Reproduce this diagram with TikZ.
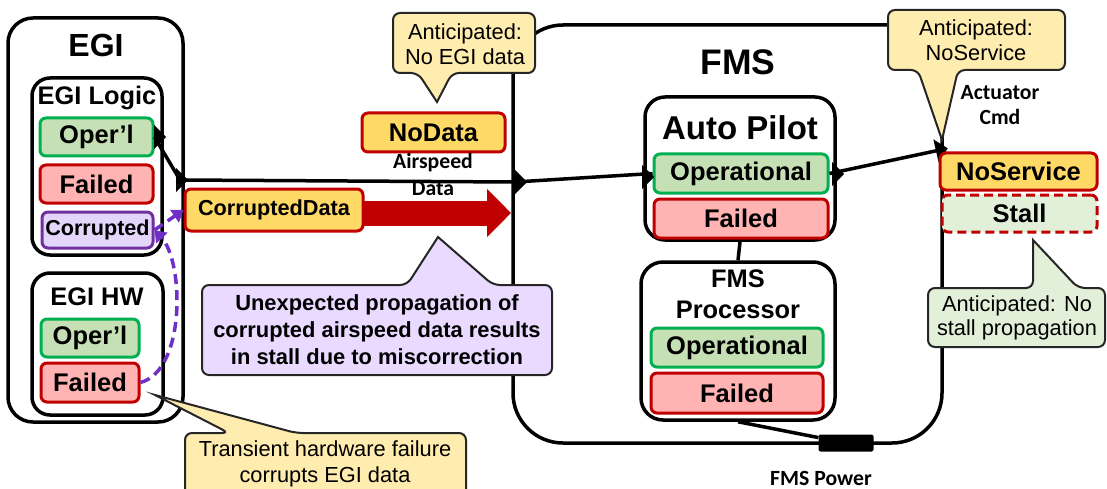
\documentclass[tikz,border=0pt]{standalone}
\usepackage{fontspec}
\setmainfont{Liberation Sans}
\newfontfamily\calfont{Carlito}
\usetikzlibrary{arrows.meta}

\definecolor{okfill}{RGB}{197,224,180}
\definecolor{okline}{RGB}{0,176,80}
\definecolor{badfill}{RGB}{255,179,179}
\definecolor{badline}{RGB}{192,0,0}
\definecolor{corfill}{RGB}{228,214,250}
\definecolor{corline}{RGB}{112,48,160}
\definecolor{datafill}{RGB}{255,217,102}
\definecolor{stallfill}{RGB}{226,240,217}
\definecolor{noteY}{RGB}{255,236,175}
\definecolor{noteP}{RGB}{234,218,255}
\definecolor{noteG}{RGB}{226,240,217}
\definecolor{arrowP}{RGB}{112,48,200}

\tikzset{
    container/.style={draw, line width=3.5pt, inner sep=0pt},
    state/.style={line width=3pt, rounded corners=6pt, inner sep=0pt, minimum height=38pt,
        font=\fontsize{25.5}{28}\selectfont\bfseries},
    okst/.style={state, draw=okline, fill=okfill},
    badst/.style={state, draw=badline, fill=badfill},
    corst/.style={state, draw=corline, fill=corfill, font=\fontsize{21.6}{24}\selectfont\bfseries},
    datast/.style={state, draw=badline, fill=datafill},
    stallst/.style={state, draw=badline, fill=stallfill, dash pattern=on 9pt off 5pt},
    subtitle/.style={font=\fontsize{25.4}{31}\selectfont\bfseries, align=center},
    flowlabel/.style={font=\fontsize{21.7}{26}\calfont\bfseries, align=center},
    note/.style={draw=black!85, line width=2pt, rounded corners=7pt},
    notetext/.style={font=\fontsize{21.8}{25}\selectfont, align=center},
    link/.style={line width=3.5pt},
    purpflow/.style={draw=arrowP, line width=3.5pt, dash pattern=on 10pt off 6pt,
        -{Triangle[length=11pt,width=15pt]}},
    bigarrow/.style={draw=badline, line width=25pt, -{Triangle[length=24pt,width=47pt]}},
    pwrport/.style={fill=black, rounded corners=2pt, minimum width=55pt, minimum height=17pt, inner sep=0pt},
    portmark/.pic={\fill (0,-12) -- (12,0) -- (0,12) -- cycle;}
}

\begin{document}
\begin{tikzpicture}[x=1pt, y=-1pt]
    \useasboundingbox (0,0) rectangle (1107,489);

    % EGI
    \node[container, rounded corners=25pt, minimum width=175pt, minimum height=404pt] (egibox) at (95.5,220) {};
    \node[font=\fontsize{32}{36}\selectfont\bfseries] (egititle) at (96,45) {EGI};

    \node[container, rounded corners=18pt, minimum width=130pt, minimum height=177pt] (logicbox) at (97,166.5) {};
    \node[subtitle] (logictitle) at (97,98) {EGI Logic};
    \node[okst, minimum width=113pt] (lop) at (96.5,137) {Oper’l};
    \node[badst, minimum width=113pt] (lfail) at (96.5,184) {Failed};
    \node[corst, minimum width=111pt, minimum height=36pt] (lcor) at (97.5,230) {Corrupted};

    \node[container, rounded corners=18pt, minimum width=131pt, minimum height=142pt] (hwbox) at (97.5,344) {};
    \node[subtitle] (hwtitle) at (97,297) {EGI HW};
    \node[okst, minimum width=98pt] (hwop) at (90,338) {Oper’l};
    \node[badst, minimum width=98pt, minimum height=39pt] (hwfail) at (90,382.5) {Failed};

    % FMS
    \node[container, rounded corners=50pt, minimum width=429pt, minimum height=418pt] (fmsbox) at (727.5,234) {};
    \node[font=\fontsize{35.5}{40}\selectfont\bfseries] (fmstitle) at (738,62) {FMS};

    \node[container, rounded corners=20pt, minimum width=190pt, minimum height=143pt] (apbox) at (740,168.5) {};
    \node[font=\fontsize{33}{36}\selectfont\bfseries] (aptitle) at (740,128) {Auto Pilot};
    \node[okst, minimum width=174pt, minimum height=39pt] (apop) at (741,173.5) {Operational};
    \node[badst, minimum width=174pt, minimum height=39pt] (apfail) at (741,218.5) {Failed};

    \node[container, rounded corners=22pt, minimum width=194pt, minimum height=158pt] (procbox) at (738,341) {};
    \node[subtitle] (proctitle) at (738,294) {FMS\\Processor};
    \node[okst, minimum width=172pt, minimum height=39pt] (procop) at (737,347.5) {Operational};
    \node[badst, minimum width=172pt, minimum height=40pt] (procfail) at (737,393) {Failed};

    \node[pwrport] (pwr) at (846,443) {};
    \node[flowlabel] (pwrlabel) at (821,478) {FMS Power};

    % ports and links
    \coordinate (egiport) at (180,180);
    \coordinate (fmsin) at (515,182);
    \coordinate (fmsout) at (940,150);
    \draw[link] (lop.east) -- (egiport);
    \draw[link] (egiport) -- (fmsin);
    \draw[link] (fmsin) -- (apop.west);
    \draw[link] (apop.east) -- (fmsout);
    \draw[link] (apbox.south) -- (procbox.north);
    \draw[link] (procbox.south) -- (pwr);
    \pic at (154,137) {portmark};
    \pic at (176,180) {portmark};
    \pic at (515,182) {portmark};
    \pic at (642,177) {portmark};
    \pic at (832,174) {portmark};
    \pic[rotate=13] at (936,151) {portmark};

    % data on the airspeed link
    \node[datast, minimum width=143pt, minimum height=39pt] (nodata) at (433.5,132.5) {NoData};
    \node[flowlabel, font=\fontsize{21.7}{27}\calfont\bfseries] (airlabel) at (433,174) {Airspeed\\Data};
    \node[datast, minimum width=178pt, minimum height=42pt, font=\fontsize{21.7}{24}\selectfont\bfseries] (cdata) at (274,210) {CorruptedData};
    \coordinate (redtail) at (362,213);
    \coordinate (redtip) at (511,213);
    \draw[bigarrow] (redtail) -- (redtip);

    % actuator output
    \node[flowlabel, font=\fontsize{21.7}{25}\calfont\bfseries] (actlabel) at (1000,105) {Actuator\\Cmd};
    \node[datast, minimum width=157pt, minimum height=37pt] (noserv) at (1018.5,171.5) {NoService};
    \node[stallst, minimum width=155pt, minimum height=37pt] (stall) at (1019.5,213.5) {Stall};

    % corruption path
    \draw[purpflow] (hwfail.east) .. controls (186,370) and (184,262) .. (lcor.east);
    \draw[purpflow] (lcor.east) -- (cdata.west);

    % callouts
    \draw[note, fill=noteY] (437,102) -- (452,73) -- (535,73) -- (535,13) -- (393,13) -- (393,73) -- (418,73) [sharp corners] -- cycle;
    \node[notetext] (eginote) at (465,44.5) {Anticipated:\\No EGI data};

    \draw[note, fill=noteY] (942,140) -- (958,70) -- (1065,70) -- (1065,10) -- (888,10) -- (888,70) -- (918,70) [sharp corners] -- cycle;
    \node[notetext] (servnote) at (976,40.5) {Anticipated:\\NoService};

    \draw[note, fill=noteG] (1033,240) -- (1078,288) -- (1105,288) -- (1105,347) -- (928,347) -- (928,288) -- (1033,288) [sharp corners] -- cycle;
    \node[notetext, font=\fontsize{21.8}{24}\selectfont] (stallnote) at (1017,318) {Anticipated: No\\stall propagation};

    \draw[note, fill=noteP] (438,237) -- (493,285) -- (552,285) -- (552,375) -- (202,375) -- (202,285) -- (407,285) [sharp corners] -- cycle;
    \node[notetext, font=\fontsize{21.9}{27}\selectfont\bfseries] (propnote) at (377,330) {Unexpected propagation of\\corrupted airspeed data results\\in stall due to miscorrection};

    \draw[note, fill=noteY] (155,395) -- (296,433) -- (466,433) -- (466,510) -- (185,510) -- (185,433) -- (229,433) [sharp corners] -- cycle;
    \node[notetext, font=\fontsize{21.8}{26}\selectfont] (hwnote) at (325,464) {Transient hardware failure\\corrupts EGI data};

\end{tikzpicture}
\end{document}
